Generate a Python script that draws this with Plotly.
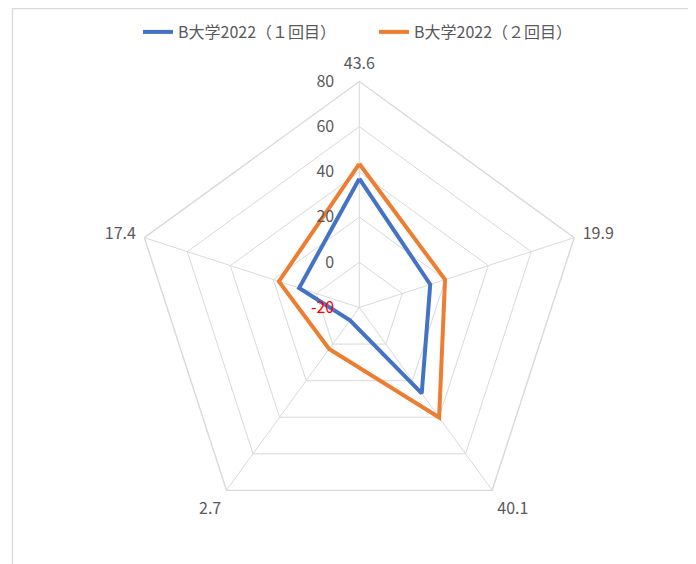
import plotly.graph_objects as go

categories = ["43.6", "19.9", "40.1", "2.7", "17.4"]
first_round = [37, 13, 27, -13, 8]
second_round = [43.6, 19.9, 40.1, 2.7, 17.4]
tick_values = [-20, 0, 20, 40, 60, 80]
tick_labels = ["<span style='color:#FF0000'>-20</span>", "0", "20", "40", "60", "80"]

TEXT = "#595959"
GRID = "#D9D9D9"
FONT = "Noto Sans CJK JP, Noto Sans, sans-serif"

# page body has an 8px margin, so figure coords = page coords - 8
W, H = 688, 556
cx, cy, rad = 351.3, 299.5, 226

fig = go.Figure()
for name, values, color in (
    ("B大学2022（１回目）", first_round, "#4472C4"),
    ("B大学2022（２回目）", second_round, "#ED7D31"),
):
    fig.add_trace(
        go.Scatterpolar(
            r=values + values[:1],
            theta=categories + categories[:1],
            name=name,
            mode="lines",
            line={"color": color, "width": 4},
        )
    )

fig.update_layout(
    width=W,
    height=H,
    margin={"l": 0, "r": 0, "t": 0, "b": 0},
    paper_bgcolor="white",
    font={"family": FONT, "color": TEXT, "size": 16},
    legend={
        "orientation": "h",
        "x": 130 / W,
        "xanchor": "left",
        "y": 1 - 7 / H,
        "yanchor": "top",
        "entrywidth": 191,
        "font": {"size": 16, "color": TEXT},
    },
    polar={
        "domain": {
            "x": [(cx - rad) / W, (cx + rad) / W],
            "y": [1 - (cy + rad) / H, 1 - (cy - rad) / H],
        },
        "gridshape": "linear",
        "bgcolor": "white",
        "radialaxis": {
            "range": [-20, 80],
            "tickvals": tick_values,
            "ticktext": tick_labels,
            "angle": 90,
            "tickangle": 90,
            "side": "counterclockwise",
            "showline": False,
            "ticks": "outside",
            "ticklen": 19,
            "tickcolor": "rgba(0,0,0,0)",
            "gridcolor": GRID,
            "gridwidth": 1.4,
            "tickfont": {"size": 16, "color": TEXT},
        },
        "angularaxis": {
            "rotation": 90,
            "direction": "clockwise",
            "showline": True,
            "linecolor": GRID,
            "linewidth": 1.4,
            "gridcolor": GRID,
            "ticks": "outside",
            "ticklen": 5,
            "tickcolor": "rgba(0,0,0,0)",
            "tickfont": {"size": 16, "color": TEXT},
        },
    },
    shapes=[
        {
            "type": "rect",
            "xref": "paper",
            "yref": "paper",
            "x0": 4.5 / W,
            "x1": 1.05,
            "y0": -0.05,
            "y1": 1 - 0.7 / H,
            "line": {"color": "#D9D9D9", "width": 1.3},
        }
    ],
)

fig.write_html("out.html")
